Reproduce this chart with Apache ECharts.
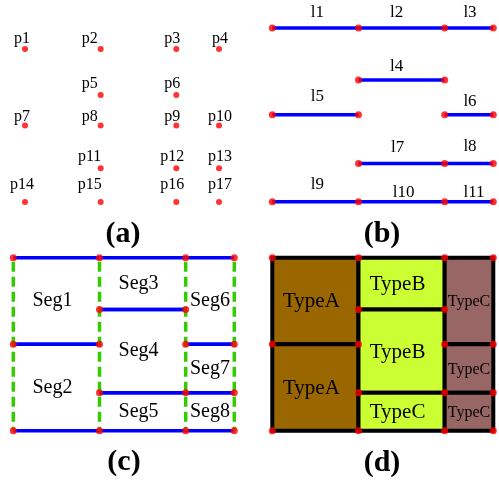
<!DOCTYPE html>
<html><head><meta charset="utf-8">
<script src="https://cdn.jsdelivr.net/npm/echarts@6/dist/echarts.min.js"></script>
<style>html,body{margin:0;padding:0;background:#fff}#c{width:499px;height:485px}</style>
</head><body><div id="c"></div>
<script>
// ---------------- data ----------------
// 17 node points (logical units 0..100, y measured downward)
const pointNames = ['p1','p2','p3','p4','p5','p6','p7','p8','p9','p10','p11','p12','p13','p14','p15','p16','p17'];
const pointX = [0, 39, 78, 100, 39, 78, 0, 39, 78, 100, 39, 78, 100, 0, 39, 78, 100];
const pointY = [0, 0, 0, 0, 30, 30, 50, 50, 50, 50, 78, 78, 78, 100, 100, 100, 100];
// panel (b): line pieces between points (1-based point numbers)
const lineNames = ['l1','l2','l3','l4','l5','l6','l7','l8','l9','l10','l11'];
const lineFrom = [1, 2, 3, 5, 7, 9, 11, 12, 14, 15, 16];
const lineTo   = [2, 3, 4, 6, 8, 10, 12, 13, 15, 16, 17];
// panels (c)/(d): cells from top-left point to bottom-right point
const segNames = ['Seg1','Seg2','Seg3','Seg4','Seg5','Seg6','Seg7','Seg8'];
const segTopLeft     = [1, 7, 2, 5, 11, 3, 9, 12];
const segBottomRight = [8, 15, 6, 12, 16, 10, 13, 17];
const segTypes = ['TypeA','TypeA','TypeB','TypeB','TypeC','TypeC','TypeC','TypeC'];
const panelTags = ['(a)', '(b)', '(c)', '(d)'];

// ---------------- style ----------------
const SERIF = '"Liberation Serif", "Times New Roman", serif';
const RED = '#ff0000', BLUE = '#0000ff', GREEN = '#33cc00';
const cellFill = ['#996600', '#996600', '#ccff33', '#ccff33', '#ccff33', '#996666', '#996666', '#996666'];
const aLabelDxByCol = [-3, -11, -4, 1];
const aLabelLiftByRow = [10, 11, 9, 12, 17];
const bLabelLift = [15, 15, 15, 14, 18, 13, 16, 17, 17, 9, 9];
const bLabelDx = [2, -5, 1, -5, 2, 1, -4, 1, 2, 2, 5];
const grids = [
  {left: 25, top: 49, width: 194, height: 153},
  {left: 272.3, top: 28, width: 221, height: 173.7},
  {left: 13.3, top: 257.7, width: 221, height: 173},
  {left: 272.3, top: 257.7, width: 221, height: 173}
];
const tagPos = [[123, 234], [382, 234], [124, 462], [382, 463]];

// ---------------- build ----------------
const colVals = [0, 39, 78, 100];
const rowVals = [0, 30, 50, 78, 100];
const pointData = pointX.map((x, i) => [x, pointY[i]]);
const lineData = lineFrom.map((f, i) => [pointX[f-1], pointY[f-1], pointX[lineTo[i]-1], pointY[lineTo[i]-1]]);
const cellData = segTopLeft.map((a, i) => [pointX[a-1], pointY[a-1], pointX[segBottomRight[i]-1], pointY[segBottomRight[i]-1]]);
const vLineX = Array.from(new Set(cellData.flatMap(c => [c[0], c[2]]))).sort((a,b)=>a-b);
const vLineData = vLineX.map(x => [x, 0, x, 100]);

function dots(gi, size) {
  return {type: 'scatter', xAxisIndex: gi, yAxisIndex: gi, data: pointData, symbol: 'circle',
    symbolSize: size, itemStyle: {color: RED}, silent: true, z: 5};
}

const series = [];
// (a) points with labels
series.push({
  type: 'custom', xAxisIndex: 0, yAxisIndex: 0, data: pointData, encode: {x: 0, y: 1}, z: 3,
  renderItem: function (params, api) {
    const i = params.dataIndex;
    const p = api.coord([api.value(0), api.value(1)]);
    const col = colVals.indexOf(pointX[i]);
    const row = rowVals.indexOf(pointY[i]);
    return {type: 'text', x: p[0] + aLabelDxByCol[col], y: p[1] - aLabelLiftByRow[row],
      style: {text: pointNames[i], font: '16px ' + SERIF, fill: '#000', align: 'center', verticalAlign: 'middle'}};
  }
});
series.push(dots(0, 6));
// (b) line pieces
series.push({
  type: 'custom', xAxisIndex: 1, yAxisIndex: 1, data: lineData, encode: {x: [0, 2], y: [1, 3]}, z: 3,
  renderItem: function (params, api) {
    const i = params.dataIndex;
    const a = api.coord([api.value(0), api.value(1)]);
    const b = api.coord([api.value(2), api.value(3)]);
    return {type: 'group', children: [
      {type: 'line', shape: {x1: a[0], y1: a[1], x2: b[0], y2: b[1]}, style: {stroke: BLUE, lineWidth: 3.5}},
      {type: 'text', x: (a[0] + b[0]) / 2 + bLabelDx[i], y: a[1] - bLabelLift[i],
        style: {text: lineNames[i], font: '17px ' + SERIF, fill: '#000', align: 'center', verticalAlign: 'middle'}}
    ]};
  }
});
series.push(dots(1, 7));
// (c) segments: blue horizontal edges + labels
series.push({
  type: 'custom', xAxisIndex: 2, yAxisIndex: 2, data: cellData, encode: {x: [0, 2], y: [1, 3]}, z: 2,
  renderItem: function (params, api) {
    const i = params.dataIndex;
    const a = api.coord([api.value(0), api.value(1)]);
    const b = api.coord([api.value(2), api.value(3)]);
    const narrow = (b[0] - a[0]) < 60;
    return {type: 'group', children: [
      {type: 'line', shape: {x1: a[0], y1: a[1], x2: b[0], y2: a[1]}, style: {stroke: BLUE, lineWidth: 3.5}},
      {type: 'line', shape: {x1: a[0], y1: b[1], x2: b[0], y2: b[1]}, style: {stroke: BLUE, lineWidth: 3.5}},
      {type: 'text', x: (a[0] + b[0]) / 2 + (narrow ? 0 : -4), y: (a[1] + b[1]) / 2,
        style: {text: segNames[i], font: '20px ' + SERIF, fill: '#000', align: 'center', verticalAlign: 'middle'}}
    ]};
  }
});
series.push({
  type: 'custom', xAxisIndex: 2, yAxisIndex: 2, data: vLineData, encode: {x: [0, 2], y: [1, 3]}, z: 3,
  renderItem: function (params, api) {
    const a = api.coord([api.value(0), api.value(1)]);
    const b = api.coord([api.value(2), api.value(3)]);
    return {type: 'line', shape: {x1: a[0], y1: a[1] + 4, x2: b[0], y2: b[1]},
      style: {stroke: GREEN, lineWidth: 3.5, lineDash: [10, 5]}};
  }
});
series.push(dots(2, 7));
// (d) typed cells
series.push({
  type: 'custom', xAxisIndex: 3, yAxisIndex: 3, data: cellData, encode: {x: [0, 2], y: [1, 3]}, z: 2,
  renderItem: function (params, api) {
    const i = params.dataIndex;
    const a = api.coord([api.value(0), api.value(1)]);
    const b = api.coord([api.value(2), api.value(3)]);
    const narrow = (b[0] - a[0]) < 60;
    return {type: 'group', children: [
      {type: 'rect', shape: {x: a[0], y: a[1], width: b[0] - a[0], height: b[1] - a[1]},
        style: {fill: cellFill[i], stroke: '#000', lineWidth: 4}},
      {type: 'text', x: (a[0] + b[0]) / 2 + (narrow ? 0 : -4), y: (a[1] + b[1]) / 2 + 1,
        style: {text: segTypes[i], font: (narrow ? '16px ' : '21px ') + SERIF, fill: '#000', align: 'center', verticalAlign: 'middle'}}
    ]};
  }
});
series.push(dots(3, 7));

const chart = echarts.init(document.getElementById('c'), null, {renderer: 'canvas'});
chart.setOption({
  animation: false,
  backgroundColor: '#fff',
  grid: grids,
  xAxis: grids.map((g, i) => ({type: 'value', gridIndex: i, min: 0, max: 100, show: false})),
  yAxis: grids.map((g, i) => ({type: 'value', gridIndex: i, min: 0, max: 100, inverse: true, show: false})),
  graphic: panelTags.map((t, i) => ({
    type: 'text', x: tagPos[i][0], y: tagPos[i][1], silent: true,
    style: {text: t, font: 'bold 30px ' + SERIF, fill: '#000', align: 'center', verticalAlign: 'middle',
      textAlign: 'center', textVerticalAlign: 'middle'}
  })),
  series: series
});
</script></body></html>
